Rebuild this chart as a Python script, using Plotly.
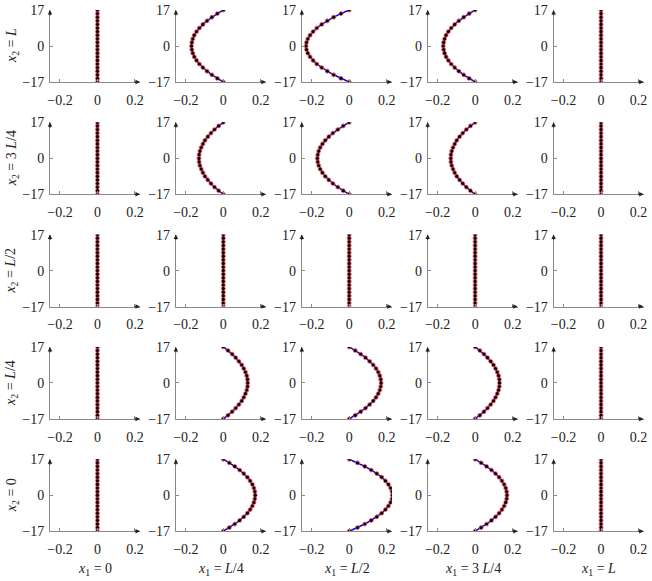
import plotly.graph_objects as go

# y positions of the sample nodes along x2-section
y_nodes = [-17.0, -15.3, -13.6, -11.9, -10.2, -8.5, -6.8, -5.1, -3.4, -1.7, 0.0,
           1.7, 3.4, 5.1, 6.8, 8.5, 10.2, 11.9, 13.6, 15.3, 17.0]

# displacement profiles
u_zero = [0.0, 0.0, 0.0, 0.0, 0.0, 0.0, 0.0, 0.0, 0.0, 0.0, 0.0,
          0.0, 0.0, 0.0, 0.0, 0.0, 0.0, 0.0, 0.0, 0.0, 0.0]
u_pos_013 = [0.000, 0.025, 0.047, 0.066, 0.083, 0.098, 0.109, 0.118, 0.125, 0.129, 0.130,
             0.129, 0.125, 0.118, 0.109, 0.098, 0.083, 0.066, 0.047, 0.025, 0.000]
u_neg_013 = [0.000, -0.025, -0.047, -0.066, -0.083, -0.098, -0.109, -0.118, -0.125, -0.129, -0.130,
             -0.129, -0.125, -0.118, -0.109, -0.098, -0.083, -0.066, -0.047, -0.025, 0.000]
u_pos_017 = [0.000, 0.032, 0.061, 0.087, 0.109, 0.128, 0.143, 0.155, 0.163, 0.168, 0.170,
             0.168, 0.163, 0.155, 0.143, 0.128, 0.109, 0.087, 0.061, 0.032, 0.000]
u_neg_017 = [0.000, -0.032, -0.061, -0.087, -0.109, -0.128, -0.143, -0.155, -0.163, -0.168, -0.170,
             -0.168, -0.163, -0.155, -0.143, -0.128, -0.109, -0.087, -0.061, -0.032, 0.000]
u_pos_023 = [0.000, 0.044, 0.083, 0.117, 0.147, 0.173, 0.193, 0.209, 0.221, 0.228, 0.230,
             0.228, 0.221, 0.209, 0.193, 0.173, 0.147, 0.117, 0.083, 0.044, 0.000]
u_neg_023 = [0.000, -0.044, -0.083, -0.117, -0.147, -0.173, -0.193, -0.209, -0.221, -0.228, -0.230,
             -0.228, -0.221, -0.209, -0.193, -0.173, -0.147, -0.117, -0.083, -0.044, 0.000]

panel_profiles = [
    [u_zero, u_neg_017, u_neg_023, u_neg_017, u_zero],
    [u_zero, u_neg_013, u_neg_017, u_neg_013, u_zero],
    [u_zero, u_zero, u_zero, u_zero, u_zero],
    [u_zero, u_pos_013, u_pos_017, u_pos_013, u_zero],
    [u_zero, u_pos_017, u_pos_023, u_pos_017, u_zero],
]

row_labels = ["<i>x</i><sub>2</sub> = <i>L</i>", "<i>x</i><sub>2</sub> = 3 <i>L</i>/4",
              "<i>x</i><sub>2</sub> = <i>L</i>/2", "<i>x</i><sub>2</sub> = <i>L</i>/4",
              "<i>x</i><sub>2</sub> = 0"]
col_labels = ["<i>x</i><sub>1</sub> = 0", "<i>x</i><sub>1</sub> = <i>L</i>/4",
              "<i>x</i><sub>1</sub> = <i>L</i>/2", "<i>x</i><sub>1</sub> = 3 <i>L</i>/4",
              "<i>x</i><sub>1</sub> = <i>L</i>"]
x_ticks = [-0.2, 0, 0.2]
x_ticktext = ["\u22120.2", "0", "0.2"]
y_ticks = [-17, 0, 17]
y_ticktext = ["\u221217", "0", "17"]

W, H = 652, 581
X_MIN, X_MAX = -0.253, 0.227
Y_MIN, Y_MAX = -17, 17
FONT = "Liberation Serif"
COL_STEP, ROW_STEP = 125.9, 112.3

fig = go.Figure()
layout = {}
annotations = []

for r in range(5):
    for c in range(5):
        k = r * 5 + c + 1
        sfx = "" if k == 1 else str(k)
        u = panel_profiles[r][c]
        xa, ya = "x" + sfx, "y" + sfx

        fig.add_trace(go.Scatter(x=u, y=y_nodes, mode="lines",
                                 line=dict(color="blue", width=1.5),
                                 xaxis=xa, yaxis=ya, showlegend=False))
        fig.add_trace(go.Scatter(x=u, y=y_nodes, mode="markers",
                                 marker=dict(symbol="circle-open", size=4, color="#ff3b3b",
                                             line=dict(width=0.8, color="#ff3b3b")),
                                 xaxis=xa, yaxis=ya, showlegend=False))
        fig.add_trace(go.Scatter(x=u, y=y_nodes, mode="markers",
                                 marker=dict(symbol="circle", size=3.2, color="black"),
                                 xaxis=xa, yaxis=ya, showlegend=False))

        left = 50 + COL_STEP * c
        top = 10 + ROW_STEP * r
        layout["xaxis" + sfx] = dict(
            domain=[left / W, (left + 90) / W], anchor=ya, range=[X_MIN, X_MAX],
            showgrid=False, zeroline=False, showline=True, linecolor="#8a8a8a", linewidth=1,
            ticks="inside", ticklen=3, tickcolor="#8a8a8a", tickvals=x_ticks,
            ticktext=x_ticktext, ticklabelstandoff=5, automargin=False,
            ticklabeloverflow="allow",
            tickfont=dict(family=FONT, size=14, color="#222"))
        layout["yaxis" + sfx] = dict(
            domain=[1 - (top + 72) / H, 1 - top / H], anchor=xa, range=[Y_MIN, Y_MAX],
            showgrid=False, zeroline=False, showline=True, linecolor="#8a8a8a", linewidth=1,
            ticks="inside", ticklen=3, tickcolor="#8a8a8a", tickvals=y_ticks,
            ticktext=y_ticktext, ticklabelstandoff=2, automargin=False,
            ticklabeloverflow="allow",
            tickfont=dict(family=FONT, size=14, color="#222"))

        # axis arrow heads
        annotations.append(dict(x=X_MAX, y=Y_MIN, xref=xa, yref=ya, ax=-7, ay=0,
                                showarrow=True, arrowhead=2, arrowsize=0.9,
                                arrowwidth=1, arrowcolor="#222", text=""))
        annotations.append(dict(x=X_MIN, y=Y_MAX, xref=xa, yref=ya, ax=0, ay=7,
                                showarrow=True, arrowhead=2, arrowsize=0.9,
                                arrowwidth=1, arrowcolor="#222", text=""))

for r, lab in enumerate(row_labels):
    annotations.append(dict(text=lab, x=12 / W, y=1 - (46 + ROW_STEP * r) / H,
                            xref="paper", yref="paper", xanchor="center", yanchor="middle",
                            showarrow=False, textangle=-90,
                            font=dict(family=FONT, size=14, color="#222")))
for c, lab in enumerate(col_labels):
    annotations.append(dict(text=lab, x=(95 + COL_STEP * c) / W, y=1 - 569 / H,
                            xref="paper", yref="paper", xanchor="center", yanchor="middle",
                            showarrow=False,
                            font=dict(family=FONT, size=14, color="#222")))

fig.update_layout(
    width=W, height=H,
    margin=dict(l=0, r=0, t=0, b=0),
    paper_bgcolor="white", plot_bgcolor="white",
    showlegend=False,
    annotations=annotations,
    **layout,
)

# drop the browser's default 8px body margin so the figure sits at the page corner
fig.write_html("out.html", config={"displayModeBar": False},
               post_script="document.body.style.margin = '0px';")
